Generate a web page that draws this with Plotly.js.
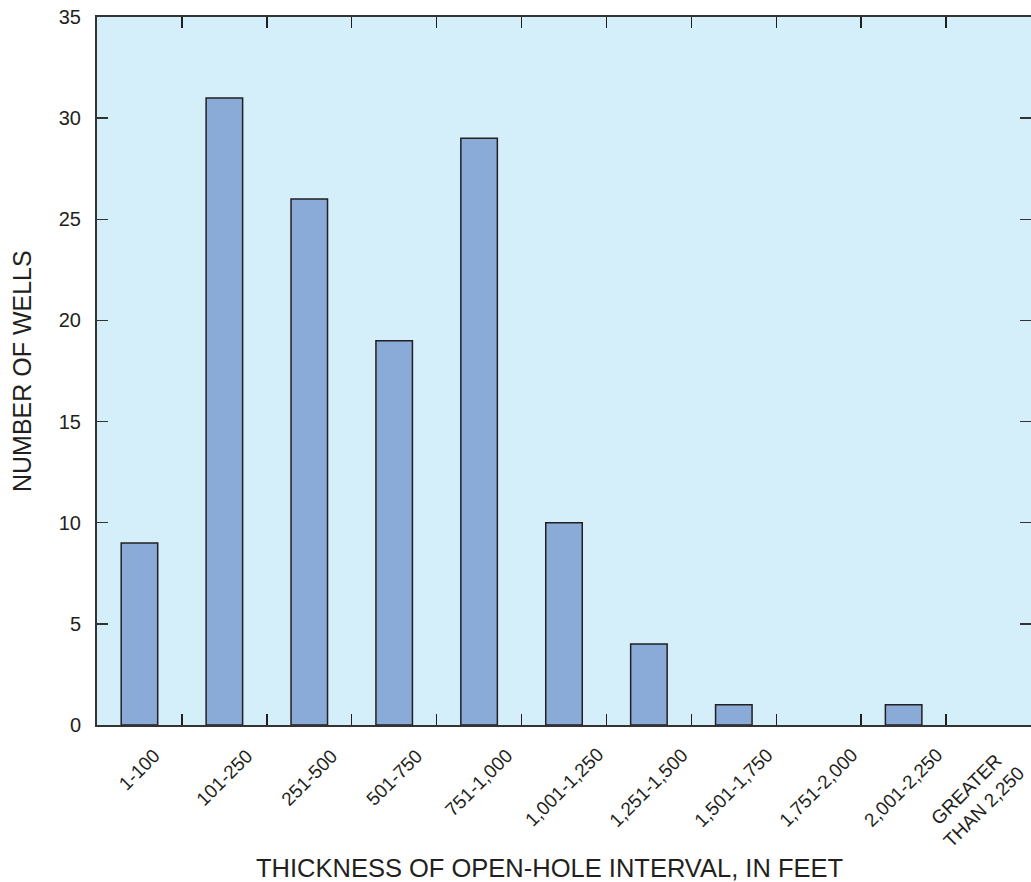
<!DOCTYPE html>
<html><head><meta charset="utf-8">
<script src="https://cdn.plot.ly/plotly-3.0.1.min.js"></script>
<style>body{margin:0;background:#fff}#c{width:1031px;height:882px}</style>
</head><body><div id="c"></div>
<script>
const categories = ["1-100","101-250","251-500","501-750","751-1,000","1,001-1,250","1,251-1,500","1,501-1,750","1,751-2,000","2,001-2,250","GREATER<br>THAN 2,250"];
const wells = [9,31,26,19,29,10,4,1,0,1,0];
const yTicks = [0,5,10,15,20,25,30,35];

const font = "Liberation Sans, Arial, sans-serif";
const tickAnnots = categories.map((c, i) => ({
  text:c, xref:'x', yref:'paper', x:c, y:0, yshift:-17,
  xshift: i === categories.length - 1 ? -13 : 0,
  xanchor:'center', yanchor:'top', textangle:-45, align:'center',
  showarrow:false, font:{size:19}
}));
Plotly.newPlot('c', [{
  type:'bar', x:categories, y:wells, width:0.43,
  marker:{color:'#8aaad8', line:{color:'#231f20', width:wells.map(v => v > 0 ? 1.5 : 0)}},
  hoverinfo:'x+y'
}], {
  width:1031, height:882,
  margin:{l:97, r:0, t:17, b:157},
  paper_bgcolor:'#ffffff', plot_bgcolor:'#d4eefa',
  showlegend:false,
  font:{family:font, color:'#231f20', size:20},
  xaxis:{
    type:'category', range:[-0.5,10.5], tickson:'boundaries',
    ticks:'inside', ticklen:11, tickwidth:1.5, tickcolor:'#231f20',
    showline:true, linecolor:'#333', linewidth:2, mirror:'ticks',
    showgrid:false, showticklabels:false
  },
  yaxis:{
    range:[0,35], tickvals:yTicks, ticks:'inside', ticklen:11, tickwidth:1.5, tickcolor:'#333',
    showline:true, linecolor:'#333', linewidth:2, mirror:'ticks',
    showgrid:false, zeroline:false, tickfont:{size:20}, ticklabelstandoff:10
  },
  annotations:tickAnnots.concat([
    {text:'THICKNESS OF OPEN-HOLE INTERVAL, IN FEET', xref:'paper', yref:'paper',
     x:0.485, y:-0.202, xanchor:'center', yanchor:'middle', showarrow:false, font:{size:25.5}},
    {text:'NUMBER OF WELLS', xref:'paper', yref:'paper', textangle:-90,
     x:-0.0803, y:0.5, xanchor:'center', yanchor:'middle', showarrow:false, font:{size:25}}
  ]),
  bargap:0.57
}, {displayModeBar:false, staticPlot:true});
</script></body></html>
